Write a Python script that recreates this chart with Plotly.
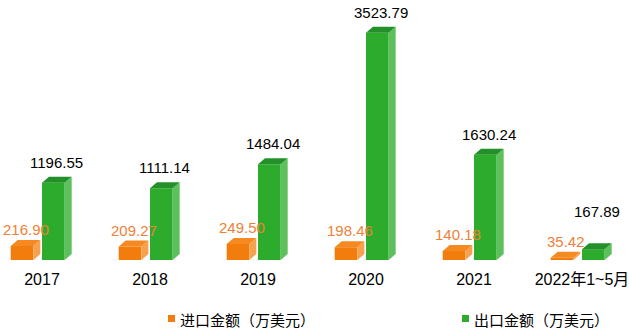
import plotly.graph_objects as go

# ---- data -------------------------------------------------------------
categories = ["2017", "2018", "2019", "2020", "2021", "2022年1~5月"]
imports = [216.90, 209.27, 249.50, 198.46, 140.18, 35.42]
exports = [1196.55, 1111.14, 1484.04, 3523.79, 1630.24, 167.89]
import_name = "进口金额（万美元）"
export_name = "出口金额（万美元）"

# ---- geometry / style -------------------------------------------------
W, H = 630, 331
PLOT_BOTTOM = 260            # pixel row of the bar floor
PX_PER_CAT = 108             # pixels between category centres
FIRST_CAT_PX = 42            # pixel column of the first category
Y_TOP = 4030
PX_PER_VAL = PLOT_BOTTOM / Y_TOP

DEPTH_X = 7 / PX_PER_CAT     # 3D depth, in category units
DEPTH_Y = 6 / PX_PER_VAL     # 3D depth, in value units
FACE_W = 0.21

FONT = "Liberation Sans, Arial, Noto Sans CJK SC, sans-serif"
CJK_FONT = "Noto Sans CJK SC, Liberation Sans, sans-serif"

styles = {
    "imp": dict(offset=-0.29, front="#F27D0C", side="#F7A04E", top="#F58A22",
                label="#EE7F38", lift=0),
    "exp": dict(offset=0.0, front="#2DAB2D", side="#5CC15C", top="#23902A",
                label="#000000", lift=4),
}

xs = list(range(len(categories)))
fig = go.Figure()


def faces(values, st):
    """Side and top faces of the extruded bars, as polygons in data units."""
    sx, sy, tx, ty = [], [], [], []
    for x, v in zip(xs, values):
        x0 = x + st["offset"]
        x1 = x0 + FACE_W
        sx += [x1, x1 + DEPTH_X, x1 + DEPTH_X, x1, x1, None]
        sy += [0, DEPTH_Y, v + DEPTH_Y, v, 0, None]
        tx += [x0, x0 + DEPTH_X, x1 + DEPTH_X, x1, x0, None]
        ty += [v, v + DEPTH_Y, v + DEPTH_Y, v, v, None]
    return sx, sy, tx, ty


for key, values, name in (("imp", imports, import_name), ("exp", exports, export_name)):
    st = styles[key]
    fig.add_trace(go.Bar(
        x=xs, y=values, name=name, width=FACE_W, offset=st["offset"],
        marker=dict(color=st["front"], line=dict(width=0)),
        showlegend=False, hoverinfo="skip",
    ))
    sx, sy, tx, ty = faces(values, st)
    fig.add_trace(go.Scatter(x=sx, y=sy, mode="lines", fill="toself",
                             fillcolor=st["side"], line=dict(width=0),
                             showlegend=False, hoverinfo="skip"))
    fig.add_trace(go.Scatter(x=tx, y=ty, mode="lines", fill="toself",
                             fillcolor=st["top"], line=dict(width=0),
                             showlegend=False, hoverinfo="skip"))

# value labels above each bar
annotations = []
for key, values in (("imp", imports), ("exp", exports)):
    st = styles[key]
    for i, (x, v) in enumerate(zip(xs, values)):
        lift = st["lift"]
        if key == "exp" and i == len(xs) - 1:
            lift += 17   # this label sits higher to clear the import label
        annotations.append(dict(
            x=x + st["offset"] + (FACE_W + DEPTH_X) / 2, y=v + DEPTH_Y,
            xref="x", yref="y", text=f"{v:.2f}", showarrow=False,
            xanchor="center", yanchor="bottom", yshift=lift,
            font=dict(family=FONT, size=15, color=st["label"]),
        ))


# legend built from small squares and text
def px_x(p):
    return p / W


def px_y(p):
    return (PLOT_BOTTOM - p) / PLOT_BOTTOM


shapes = []
for sq_x, txt_x, color, name in ((168, 179, styles["imp"]["front"], import_name),
                                 (462, 473, styles["exp"]["front"], export_name)):
    shapes.append(dict(type="rect", xref="paper", yref="paper",
                       x0=px_x(sq_x), x1=px_x(sq_x + 7),
                       y0=px_y(322), y1=px_y(315),
                       fillcolor=color, line=dict(width=0)))
    annotations.append(dict(
        x=px_x(txt_x - 1), y=px_y(319.5), xref="paper", yref="paper",
        text=name, showarrow=False, xanchor="left", yanchor="middle",
        font=dict(family=CJK_FONT, size=15, color="#000000"),
    ))

fig.update_layout(
    width=W, height=H,
    margin=dict(l=0, r=0, t=0, b=H - PLOT_BOTTOM, pad=0, autoexpand=False),
    paper_bgcolor="white", plot_bgcolor="white",
    barmode="overlay",
    showlegend=False,
    annotations=annotations,
    shapes=shapes,
    xaxis=dict(
        range=[-FIRST_CAT_PX / PX_PER_CAT, (W - FIRST_CAT_PX) / PX_PER_CAT],
        tickmode="array", tickvals=xs, ticktext=categories,
        tickfont=dict(family=FONT, size=16, color="#000000"),
        showgrid=False, zeroline=False, showline=False, ticks="",
        ticklabelstandoff=8, automargin=False, fixedrange=True,
    ),
    yaxis=dict(range=[0, Y_TOP], visible=False, fixedrange=True),
)

fig.write_html("out.html")
